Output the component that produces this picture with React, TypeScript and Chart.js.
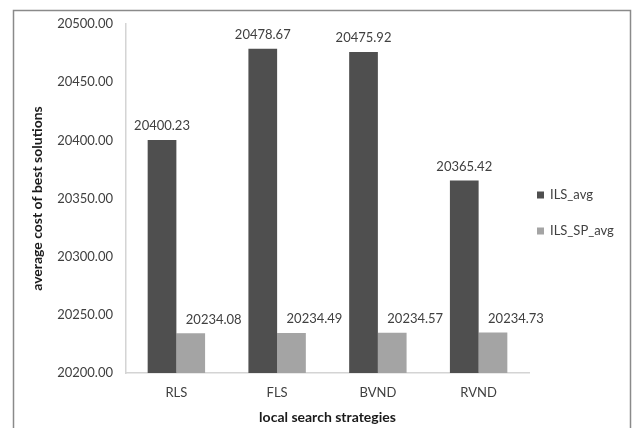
import { useEffect, useRef } from "react";
import { Chart, registerables } from "chart.js";

Chart.register(...registerables);

// Average cost of the best solutions per local search strategy
const strategies = ["RLS", "FLS", "BVND", "RVND"];
const seriesNames = ["ILS_avg", "ILS_SP_avg"];
const ilsAvg = [20400.23, 20478.67, 20475.92, 20365.42];
const ilsSpAvg = [20234.08, 20234.49, 20234.57, 20234.73];
const yMin = 20200;
const yMax = 20500;
const yStep = 50;

const FONT = "Lato, 'Open Sans', sans-serif";
const TEXT = "#404040";
const DARK = "#4f4f4f";
const LIGHT = "#a4a4a4";

// White background plus the grey outer frame
const framePlugin = {
  id: "frame",
  beforeDraw(chart: any) {
    const { ctx, width, height } = chart;
    ctx.save();
    ctx.fillStyle = "#ffffff";
    ctx.fillRect(0, 0, width, height);
    ctx.strokeStyle = "#8a8a8a";
    ctx.lineWidth = 1.5;
    ctx.strokeRect(13.5, 10.5, 617, height + 10);
    ctx.restore();
  },
};

// Value labels above each bar
const valueLabelPlugin = {
  id: "valueLabels",
  afterDatasetsDraw(chart: any) {
    const { ctx } = chart;
    ctx.save();
    ctx.font = `13px ${FONT}`;
    ctx.fillStyle = TEXT;
    ctx.textAlign = "center";
    ctx.textBaseline = "middle";
    chart.data.datasets.forEach((ds: any, di: number) => {
      const meta = chart.getDatasetMeta(di);
      meta.data.forEach((bar: any, i: number) => {
        const v = ds.data[i] as number;
        const dx = di === 1 ? 23 : 0;
        ctx.fillText(v.toFixed(2), bar.x + dx, bar.y - 14);
      });
    });
    ctx.restore();
  },
};

// Legend on the right side
const sideLegendPlugin = {
  id: "sideLegend",
  afterDraw(chart: any) {
    const { ctx, chartArea } = chart;
    ctx.save();
    ctx.font = `13px ${FONT}`;
    ctx.textAlign = "left";
    ctx.textBaseline = "middle";
    chart.data.datasets.forEach((ds: any, i: number) => {
      const y = 195 + i * 36;
      const x = chartArea.right + 8;
      ctx.fillStyle = ds.backgroundColor;
      ctx.fillRect(x, y - 3.5, 7, 7);
      ctx.fillStyle = TEXT;
      ctx.fillText(ds.label, x + 13, y);
    });
    ctx.restore();
  },
};

export default function App() {
  const canvasRef = useRef<HTMLCanvasElement | null>(null);

  useEffect(() => {
    const canvas = canvasRef.current;
    if (!canvas) return;
    const chart = new Chart(canvas, {
      type: "bar",
      data: {
        labels: strategies,
        datasets: [
          { label: seriesNames[0], data: ilsAvg, backgroundColor: DARK, borderWidth: 0 },
          { label: seriesNames[1], data: ilsSpAvg, backgroundColor: LIGHT, borderWidth: 0 },
        ],
      },
      options: {
        responsive: false,
        animation: false,
        devicePixelRatio: 1,
        layout: { padding: { top: 24, right: 105, bottom: 0, left: 0 } },
        datasets: {
          bar: { categoryPercentage: 0.57, barPercentage: 1.0 },
        },
        plugins: {
          legend: { display: false },
          tooltip: { enabled: false },
        },
        scales: {
          x: {
            grid: { display: false, drawTicks: false },
            border: { display: true, color: "#d4d4d4", width: 1.5 },
            ticks: { color: TEXT, font: { family: FONT, size: 13 }, padding: 12 },
            title: {
              display: true,
              text: "local search strategies",
              color: "#1a1a1a",
              font: { family: FONT, size: 14, weight: "bold" },
              padding: { top: 0, bottom: 2 },
            },
            afterFit(scale: any) {
              scale.height = 55;
            },
          },
          y: {
            min: yMin,
            max: yMax,
            grid: { display: false, drawTicks: false },
            border: { display: true, color: "#d4d4d4", width: 1.5 },
            ticks: {
              stepSize: yStep,
              color: TEXT,
              font: { family: FONT, size: 13 },
              padding: 13,
              callback: (v: any) => Number(v).toFixed(2),
            },
            title: {
              display: true,
              text: "average cost of best solutions",
              color: "#1a1a1a",
              font: { family: FONT, size: 14, weight: "bold" },
              padding: { top: 29, bottom: 0 },
            },
            afterFit(scale: any) {
              scale.width = 126;
            },
          },
        },
      },
      plugins: [framePlugin, valueLabelPlugin, sideLegendPlugin],
    });
    return () => chart.destroy();
  }, []);

  return (
    <div style={{ position: "fixed", left: 0, top: 0, width: 634, height: 428, background: "#fff" }}>
      <canvas ref={canvasRef} width={634} height={428} style={{ display: "block" }} />
    </div>
  );
}
